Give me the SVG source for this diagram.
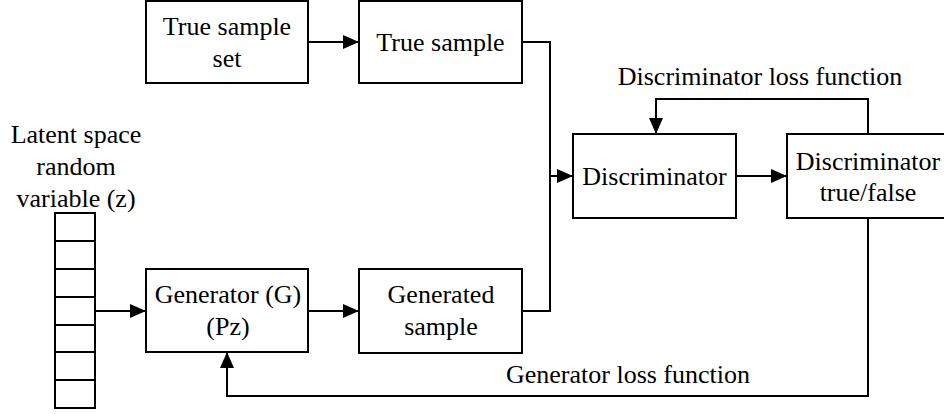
<svg xmlns="http://www.w3.org/2000/svg" width="944" height="414" viewBox="0 0 944 414">
<defs>
<style>
.box{fill:#fff;stroke:#000;stroke-width:2}
.ln{fill:none;stroke:#000;stroke-width:2}
.t{font-size:26px;fill:#000;text-anchor:middle}
</style>
<marker id="ah" markerUnits="userSpaceOnUse" markerWidth="16" markerHeight="14" refX="16" refY="7" orient="auto">
<path d="M0,0 L16,7 L0,14 z" fill="#000"/>
</marker>
</defs>
<rect width="944" height="414" fill="#fff"/>
<g font-family="Liberation Serif, DejaVu Serif, serif">
<g id="connectors">
<path class="ln" d="M308,42 H359" marker-end="url(#ah)"/>
<path class="ln" d="M522,42 H550 V176 H573" marker-end="url(#ah)"/>
<path class="ln" d="M522,311 H550 V176"/>
<path class="ln" d="M95,311 H146" marker-end="url(#ah)"/>
<path class="ln" d="M308,311 H359" marker-end="url(#ah)"/>
<path class="ln" d="M736,176 H787" marker-end="url(#ah)"/>
<path class="ln" d="M868,134 V99 H656 V134" marker-end="url(#ah)"/>
<path class="ln" d="M868,218 V396 H227 V352" marker-end="url(#ah)"/>
</g>
<g id="label-disc-loss"><text class="t" x="760" y="85">Discriminator loss function</text></g>
<g id="label-gen-loss"><text class="t" x="628" y="383">Generator loss function</text></g>
<g id="true-sample-set">
<rect class="box" x="146" y="1" width="162" height="82"/>
<text class="t" x="227" y="35">True sample</text>
<text class="t" x="227" y="67">set</text>
</g>
<g id="true-sample">
<rect class="box" x="359" y="1" width="163" height="82"/>
<text class="t" x="440.5" y="51">True sample</text>
</g>
<g id="latent">
<text class="t" x="76" y="143">Latent space</text>
<text class="t" x="76" y="175">random</text>
<text class="t" x="76" y="207">variable (z)</text>
<rect class="box" x="55" y="213" width="40" height="195"/>
<path class="ln" d="M55,241 H95 M55,269 H95 M55,297 H95 M55,325 H95 M55,352 H95 M55,380 H95"/>
</g>
<g id="generator">
<rect class="box" x="146" y="269" width="162" height="83"/>
<text class="t" x="228" y="303">Generator (G)</text>
<text class="t" x="228" y="335">(Pz)</text>
</g>
<g id="generated-sample">
<rect class="box" x="359" y="269" width="163" height="84"/>
<text class="t" x="441" y="303">Generated</text>
<text class="t" x="441" y="335">sample</text>
</g>
<g id="discriminator">
<rect class="box" x="573" y="134" width="163" height="84"/>
<text class="t" x="654.5" y="185">Discriminator</text>
</g>
<g id="disc-true-false">
<rect class="box" x="787" y="134" width="162" height="84"/>
<text class="t" x="868" y="170">Discriminator</text>
<text class="t" x="868" y="201">true/false</text>
</g>
</g>
</svg>
